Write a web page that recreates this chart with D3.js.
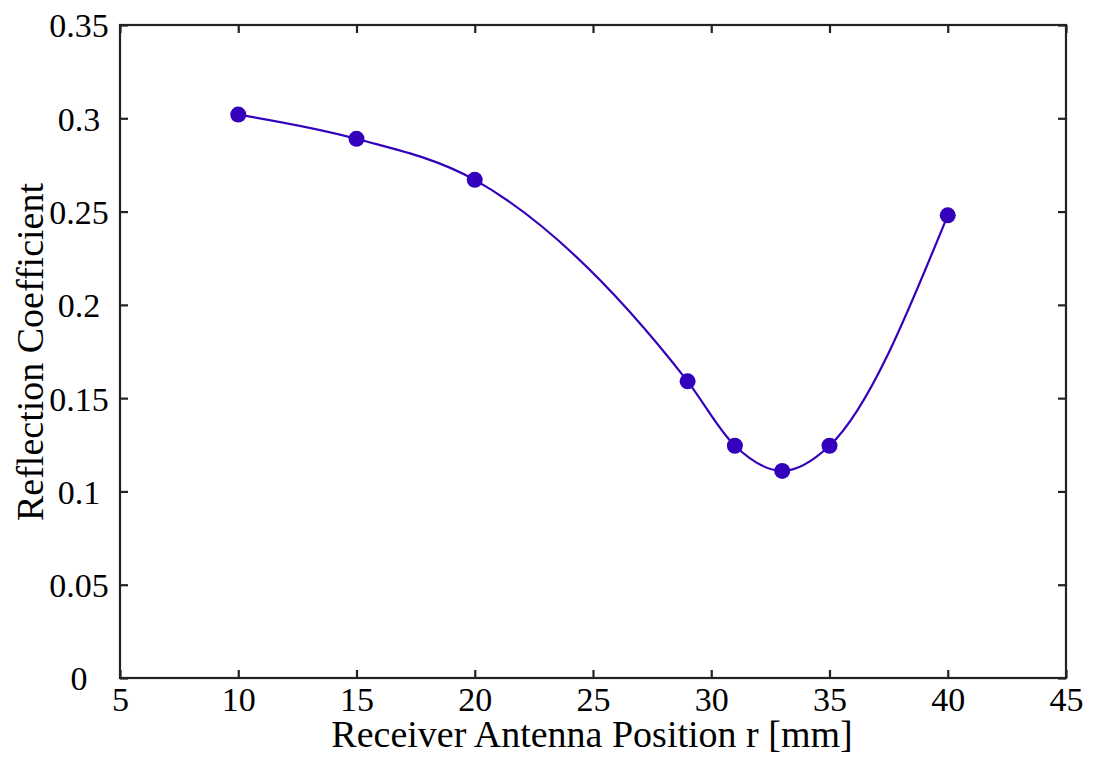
<!DOCTYPE html>
<html>
<head>
<meta charset="utf-8">
<script src="https://cdn.jsdelivr.net/npm/d3@7"></script>
<style>
  html, body { margin: 0; padding: 0; background: #fff; }
  svg { display: block; }
  text { font-family: "Liberation Serif", "Times New Roman", serif; fill: #000; }
</style>
</head>
<body>
<svg id="chart" width="1098" height="758"></svg>
<script>
// Receiver antenna position (mm) and measured reflection coefficient
const positions = [10, 15, 20, 29, 31, 33, 35, 40];
const reflection = [0.302, 0.289, 0.267, 0.159, 0.1245, 0.111, 0.1245, 0.248];
const xTicks = [5, 10, 15, 20, 25, 30, 35, 40, 45];
const yTicks = [0, 0.05, 0.1, 0.15, 0.2, 0.25, 0.3, 0.35];
const yTickLabels = ["0", "0.05", "0.1", "0.15", "0.2", "0.25", "0.3", "0.35"];

const svg = d3.select("#chart");
const plot = { left: 120, right: 1066, top: 25, bottom: 678 };
const color = "#3300bb";
const axisColor = "#222";
const tickLen = 8;

const x = d3.scaleLinear().domain([5, 45]).range([plot.left, plot.right]);
const y = d3.scaleLinear().domain([0, 0.35]).range([plot.bottom, plot.top]);

// Axes box with inward ticks on all four sides
const bottomAxis = d3.axisBottom(x).tickValues(xTicks).tickSize(-tickLen).tickPadding(9).tickFormat(d3.format("d"));
const topAxis = d3.axisTop(x).tickValues(xTicks).tickSize(-tickLen).tickFormat("");
const leftAxis = d3.axisLeft(y).tickValues(yTicks).tickSize(-tickLen).tickPadding(12)
  .tickFormat((d, i) => yTickLabels[i]);
const rightAxis = d3.axisRight(y).tickValues(yTicks).tickSize(-tickLen).tickFormat("");

function styleAxis(g) {
  g.select(".domain").remove();
  g.selectAll(".tick line").attr("stroke", axisColor).attr("stroke-width", 2.2);
  g.selectAll(".tick text").style("font-size", "34px").attr("fill", "#000");
}

svg.append("g").attr("transform", `translate(0,${plot.bottom})`).call(bottomAxis).call(styleAxis);
svg.append("g").attr("transform", `translate(0,${plot.top})`).call(topAxis).call(styleAxis);
const gLeft = svg.append("g").attr("transform", `translate(${plot.left},0)`).call(leftAxis).call(styleAxis);
svg.append("g").attr("transform", `translate(${plot.right},0)`).call(rightAxis).call(styleAxis);

// Center the y tick labels in their column
gLeft.selectAll(".tick text").attr("text-anchor", "middle").attr("x", -41).attr("dy", "0.35em");

svg.append("rect")
  .attr("x", plot.left).attr("y", plot.top)
  .attr("width", plot.right - plot.left).attr("height", plot.bottom - plot.top)
  .attr("fill", "none").attr("stroke", axisColor).attr("stroke-width", 2.2);

// Smooth curve through the measured points
const data = positions.map((p, i) => ({ p, r: reflection[i] }));
const line = d3.line().x(d => x(d.p)).y(d => y(d.r)).curve(d3.curveMonotoneX);
svg.append("path").datum(data)
  .attr("d", line).attr("fill", "none").attr("stroke", color).attr("stroke-width", 2.2);

svg.selectAll("circle.pt").data(data).enter().append("circle")
  .attr("class", "pt")
  .attr("cx", d => x(d.p)).attr("cy", d => y(d.r)).attr("r", 8)
  .attr("fill", color);

// Axis titles
svg.append("text")
  .attr("x", 592).attr("y", 747)
  .attr("text-anchor", "middle").style("font-size", "38px")
  .text("Receiver Antenna Position r [mm]");

svg.append("text")
  .attr("transform", `translate(43,352) rotate(-90)`)
  .attr("text-anchor", "middle").style("font-size", "38px")
  .text("Reflection Coefficient");
</script>
</body>
</html>
